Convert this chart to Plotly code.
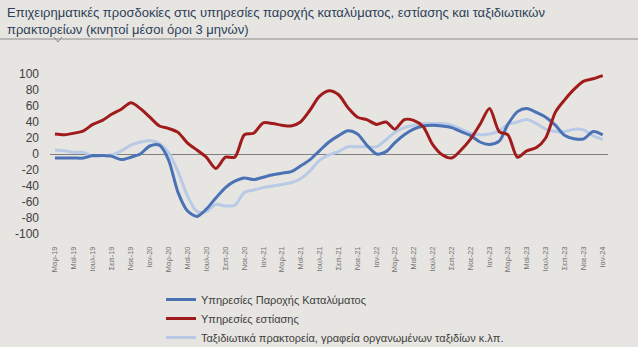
import pandas as pd
import plotly.graph_objects as go

# Monthly observations, March 2019 - January 2024 (3-month moving averages)
months = pd.date_range("2019-03-01", periods=59, freq="MS")

accommodation = [-5, -5, -5, -5, -2, -2, -3, -7, -4, 0,
                 10, 11, -7, -48, -71, -78, -69, -55, -42, -34,
                 -30, -32, -29, -26, -24, -22, -15, -7, 4, 15,
                 23, 29, 25, 11, 0, 3, 14, 24, 31, 35,
                 36, 35, 33, 28, 23, 15, 12, 16, 37, 53,
                 57, 52, 46, 36, 23, 19, 19, 28, 24]

food_services = [25, 24, 26, 29, 37, 42, 50, 56, 64, 57,
                 46, 35, 32, 27, 14, 5, -4, -18, -4, -4,
                 24, 26, 39, 38, 36, 35, 40, 55, 72, 79,
                 74, 58, 46, 43, 37, 40, 31, 43, 42, 34,
                 12, -1, -5, 5, 19, 37, 57, 28, 24, -4,
                 4, 8, 20, 52, 68, 81, 91, 94, 98]

travel_agencies = [5, 4, 2, 2, -3, -2, -1, 4, 11, 15,
                   17, 13, 2, -22, -52, -72, -72, -63, -65, -64,
                   -48, -45, -42, -40, -38, -36, -31, -21, -8, -1,
                   3, 9, 9, 9, 9, 18, 27, 33, 36, 38,
                   38, 38, 36, 31, 26, 24, 25, 29, 37, 40,
                   43, 38, 31, 28, 28, 31, 30, 23, 18]

series_names = ["Υπηρεσίες Παροχής Καταλύματος",
                "Υπηρεσίες εστίασης",
                "Ταξιδιωτικά πρακτορεία, γραφεία οργανωμένων ταξιδίων κ.λπ."]

tick_labels = ["Μαρ-19", "Μαϊ-19", "Ιουλ-19", "Σεπ-19", "Νοε-19",
               "Ιαν-20", "Μαρ-20", "Μαϊ-20", "Ιουλ-20", "Σεπ-20", "Νοε-20",
               "Ιαν-21", "Μαρ-21", "Μαϊ-21", "Ιουλ-21", "Σεπ-21", "Νοε-21",
               "Ιαν-22", "Μαρ-22", "Μαϊ-22", "Ιουλ-22", "Σεπ-22", "Νοε-22",
               "Ιαν-23", "Μαρ-23", "Μαϊ-23", "Ιουλ-23", "Σεπ-23", "Νοε-23",
               "Ιαν-24"]
tick_dates = list(months[::2])

y_ticks = [-100, -80, -60, -40, -20, 0, 20, 40, 60, 80, 100]
y_tick_text = ["-100", "-80", "-60", "-40", "-20", "0", "20", "40", "60", "80", "100"]

title_text = ("Επιχειρηματικές προσδοκίες στις υπηρεσίες παροχής καταλύματος, εστίασης και ταξιδιωτικών<br>"
              "πρακτορείων (κινητοί μέσοι όροι 3 μηνών)")

BG = "#e6e5e1"
DARK_BLUE = "#4a72b5"
RED = "#a01c1c"
LIGHT_BLUE = "#b8cae6"

fig = go.Figure()
fig.add_trace(go.Scatter(x=months, y=travel_agencies, name=series_names[2], mode="lines",
                         line=dict(color=LIGHT_BLUE, width=3, shape="spline", smoothing=0.8),
                         legendrank=3))
fig.add_trace(go.Scatter(x=months, y=accommodation, name=series_names[0], mode="lines",
                         line=dict(color=DARK_BLUE, width=3, shape="spline", smoothing=0.8),
                         legendrank=1))
fig.add_trace(go.Scatter(x=months, y=food_services, name=series_names[1], mode="lines",
                         line=dict(color=RED, width=3, shape="spline", smoothing=0.8),
                         legendrank=2))

# plot area: x 50..608 px, y 74..234 px
L, R, T, B = 50, 30, 74, 113
W, H = 638, 347
pw, ph = W - L - R, H - T - B


def px_x(x):
    return (x - L) / pw


def px_y(y):
    return (H - B - y) / ph


fig.update_layout(
    width=W, height=H,
    margin=dict(l=L, r=R, t=T, b=B, pad=0, autoexpand=False),
    paper_bgcolor=BG, plot_bgcolor=BG,
    font=dict(family="Liberation Sans, Arial, sans-serif", color="#404040"),
    showlegend=True,
    legend=dict(xref="container", yref="container",
                x=161 / W, y=1 - 285 / H, xanchor="left", yanchor="top",
                bgcolor="rgba(0,0,0,0)", font=dict(size=11, color="#404040"),
                itemwidth=30, tracegroupgap=0),
    xaxis=dict(type="date",
               range=[pd.Timestamp("2019-02-13"), pd.Timestamp("2024-01-18")],
               tickvals=tick_dates, ticktext=tick_labels, tickangle=-90,
               tickfont=dict(size=7.5, color="#707070"),
               showgrid=False, zeroline=False, showline=False, ticks="",
               ticklabelstandoff=10, automargin=False),
    yaxis=dict(range=[-100, 100], tickvals=y_ticks, ticktext=y_tick_text,
               tickfont=dict(size=12, color="#404040"),
               showgrid=False, zeroline=True, zerolinecolor="#7f7f7f", zerolinewidth=1,
               showline=False, ticks="", ticklabelstandoff=10, automargin=False),
    annotations=[dict(text=title_text, xref="paper", yref="paper",
                      x=px_x(5), y=px_y(3), xanchor="left", yanchor="top",
                      showarrow=False, align="left",
                      font=dict(size=13, color="#2e4057"))],
    shapes=[dict(type="line", xref="paper", yref="paper",
                 x0=px_x(0), x1=px_x(638), y0=px_y(39), y1=px_y(39),
                 line=dict(color="#8c8c8c", width=1)),
            dict(type="path", xref="paper", yref="paper",
                 path=f"M {px_x(54)},{px_y(37)} L {px_x(58)},{px_y(42)} L {px_x(62)},{px_y(37)}",
                 line=dict(color="#8c8c8c", width=1))],
)

fig.write_html("out.html")
